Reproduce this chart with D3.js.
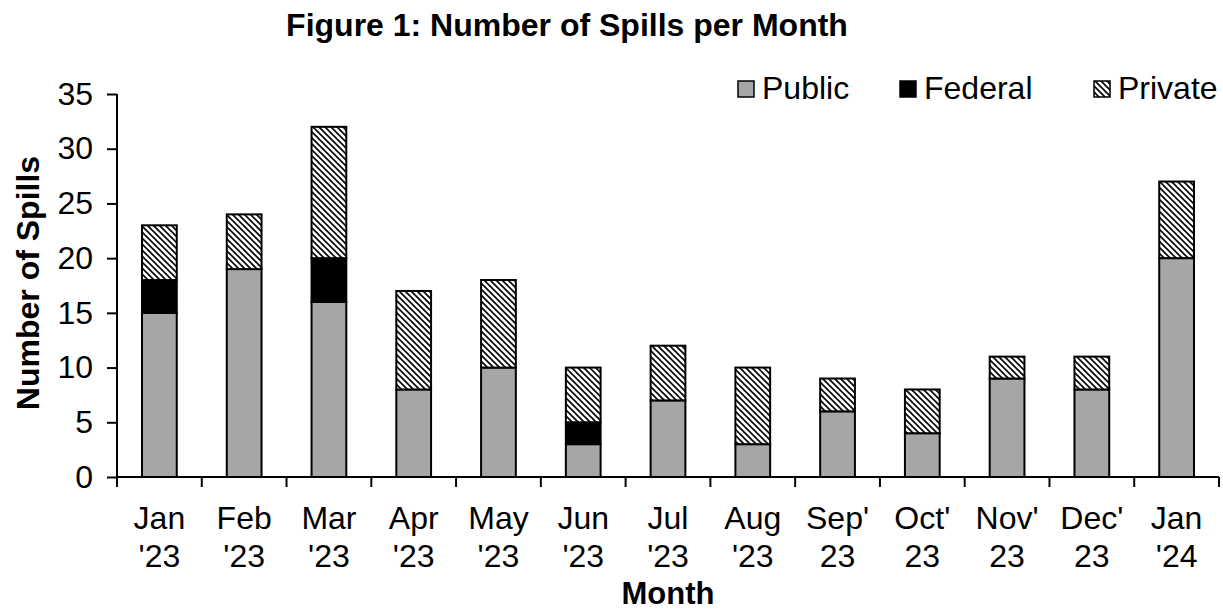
<!DOCTYPE html>
<html><head><meta charset="utf-8">
<script src="https://cdn.jsdelivr.net/npm/d3@7"></script>
<style>body{margin:0;background:#fff}svg{display:block}text{font-family:"Liberation Sans",Arial,sans-serif}</style>
</head><body><svg id="c" width="1223" height="613"></svg>
<script>
const months = [["Jan","'23"],["Feb","'23"],["Mar","'23"],["Apr","'23"],["May","'23"],["Jun","'23"],["Jul","'23"],["Aug","'23"],["Sep'","23"],["Oct'","23"],["Nov'","23"],["Dec'","23"],["Jan","'24"]];
const publicVals  = [15,19,16,8,10,3,7,3,6,4,9,8,20];
const federalVals = [3,0,4,0,0,2,0,0,0,0,0,0,0];
const privateVals = [5,5,12,9,8,5,5,7,3,4,2,3,7];
const yTicks = [0,5,10,15,20,25,30,35];
const seriesNames = ["Public","Federal","Private"];

const svg = d3.select("#c");
const defs = svg.append("defs");
const pat = defs.append("pattern").attr("id","hatch").attr("patternUnits","userSpaceOnUse")
  .attr("width",6).attr("height",6);
pat.append("rect").attr("width",6).attr("height",6).attr("fill","#fff");
pat.append("path").attr("d","M-1,-1L7,7M-1,5L1,7M5,-1L7,1").attr("stroke","#000").attr("stroke-width",1.6);

const L = 117, R = 1219, T = 94, B = 477;
const keys = months.map((m,i)=>i);
const x = d3.scaleBand().domain(keys).range([L,R]).padding(0);
const y = d3.scaleLinear().domain([0,35]).range([B,T]);
const fills = ["#a6a6a6","#000","url(#hatch)"];

const data = keys.map(i=>({i, Public:publicVals[i], Federal:federalVals[i], Private:privateVals[i]}));
const stack = d3.stack().keys(seriesNames)(data);
const bw = x.bandwidth()*0.41;

stack.forEach((s,si)=>{
  svg.append("g").selectAll("rect").data(s.filter(d=>d[1]-d[0]>0)).join("rect")
    .attr("x",d=>x(d.data.i)+x.bandwidth()/2-bw/2)
    .attr("width",bw)
    .attr("y",d=>y(d[1]))
    .attr("height",d=>y(d[0])-y(d[1]))
    .attr("fill",fills[si]).attr("stroke","#000").attr("stroke-width",2);
});

// Y axis
const ya = svg.append("g").attr("transform",`translate(${L},0)`)
  .call(d3.axisLeft(y).tickValues(yTicks).tickSize(10).tickPadding(14));
ya.select(".domain").attr("stroke","#000").attr("stroke-width",2).attr("d",`M0,${T}V${B}`);
ya.selectAll(".tick line").attr("stroke","#000").attr("stroke-width",2);
ya.selectAll(".tick text").attr("font-size",32).attr("fill","#000").attr("font-family","Liberation Sans, Arial, sans-serif");

// X axis
const xa = svg.append("g").attr("transform",`translate(0,${B})`);
xa.append("line").attr("x1",L).attr("x2",R).attr("stroke","#000").attr("stroke-width",2);
const bounds = keys.map(i=>x(i)).concat([R]);
xa.selectAll("line.t").data(bounds).join("line").attr("class","t")
  .attr("x1",d=>d).attr("x2",d=>d).attr("y1",0).attr("y2",10).attr("stroke","#000").attr("stroke-width",2);
const lbl = xa.selectAll("text.l").data(months).join("text").attr("class","l")
  .attr("text-anchor","middle").attr("font-size",32).attr("fill","#000")
  .attr("transform",(d,i)=>`translate(${x(i)+x.bandwidth()/2},0)`);
lbl.append("tspan").attr("x",0).attr("y",52).text(d=>d[0]);
lbl.append("tspan").attr("x",0).attr("y",90).text(d=>d[1]);

// Titles
svg.append("text").attr("x",567).attr("y",36).attr("text-anchor","middle")
  .attr("font-size",32).attr("font-weight","bold").text("Figure 1: Number of Spills per Month");
svg.append("text").attr("x",668).attr("y",604).attr("text-anchor","middle")
  .attr("font-size",31).attr("font-weight","bold").text("Month");
svg.append("text").attr("transform","translate(39,283) rotate(-90)").attr("text-anchor","middle")
  .attr("font-size",32).attr("font-weight","bold").text("Number of Spills");

// Legend
const legX = [738,900,1094];
const lg = svg.append("g");
seriesNames.forEach((n,i)=>{
  lg.append("rect").attr("x",legX[i]).attr("y",81).attr("width",16).attr("height",16)
    .attr("fill",fills[i]).attr("stroke","#000").attr("stroke-width",1.5);
  lg.append("text").attr("x",legX[i]+24).attr("y",99).attr("font-size",32).text(n);
});
</script></body></html>
